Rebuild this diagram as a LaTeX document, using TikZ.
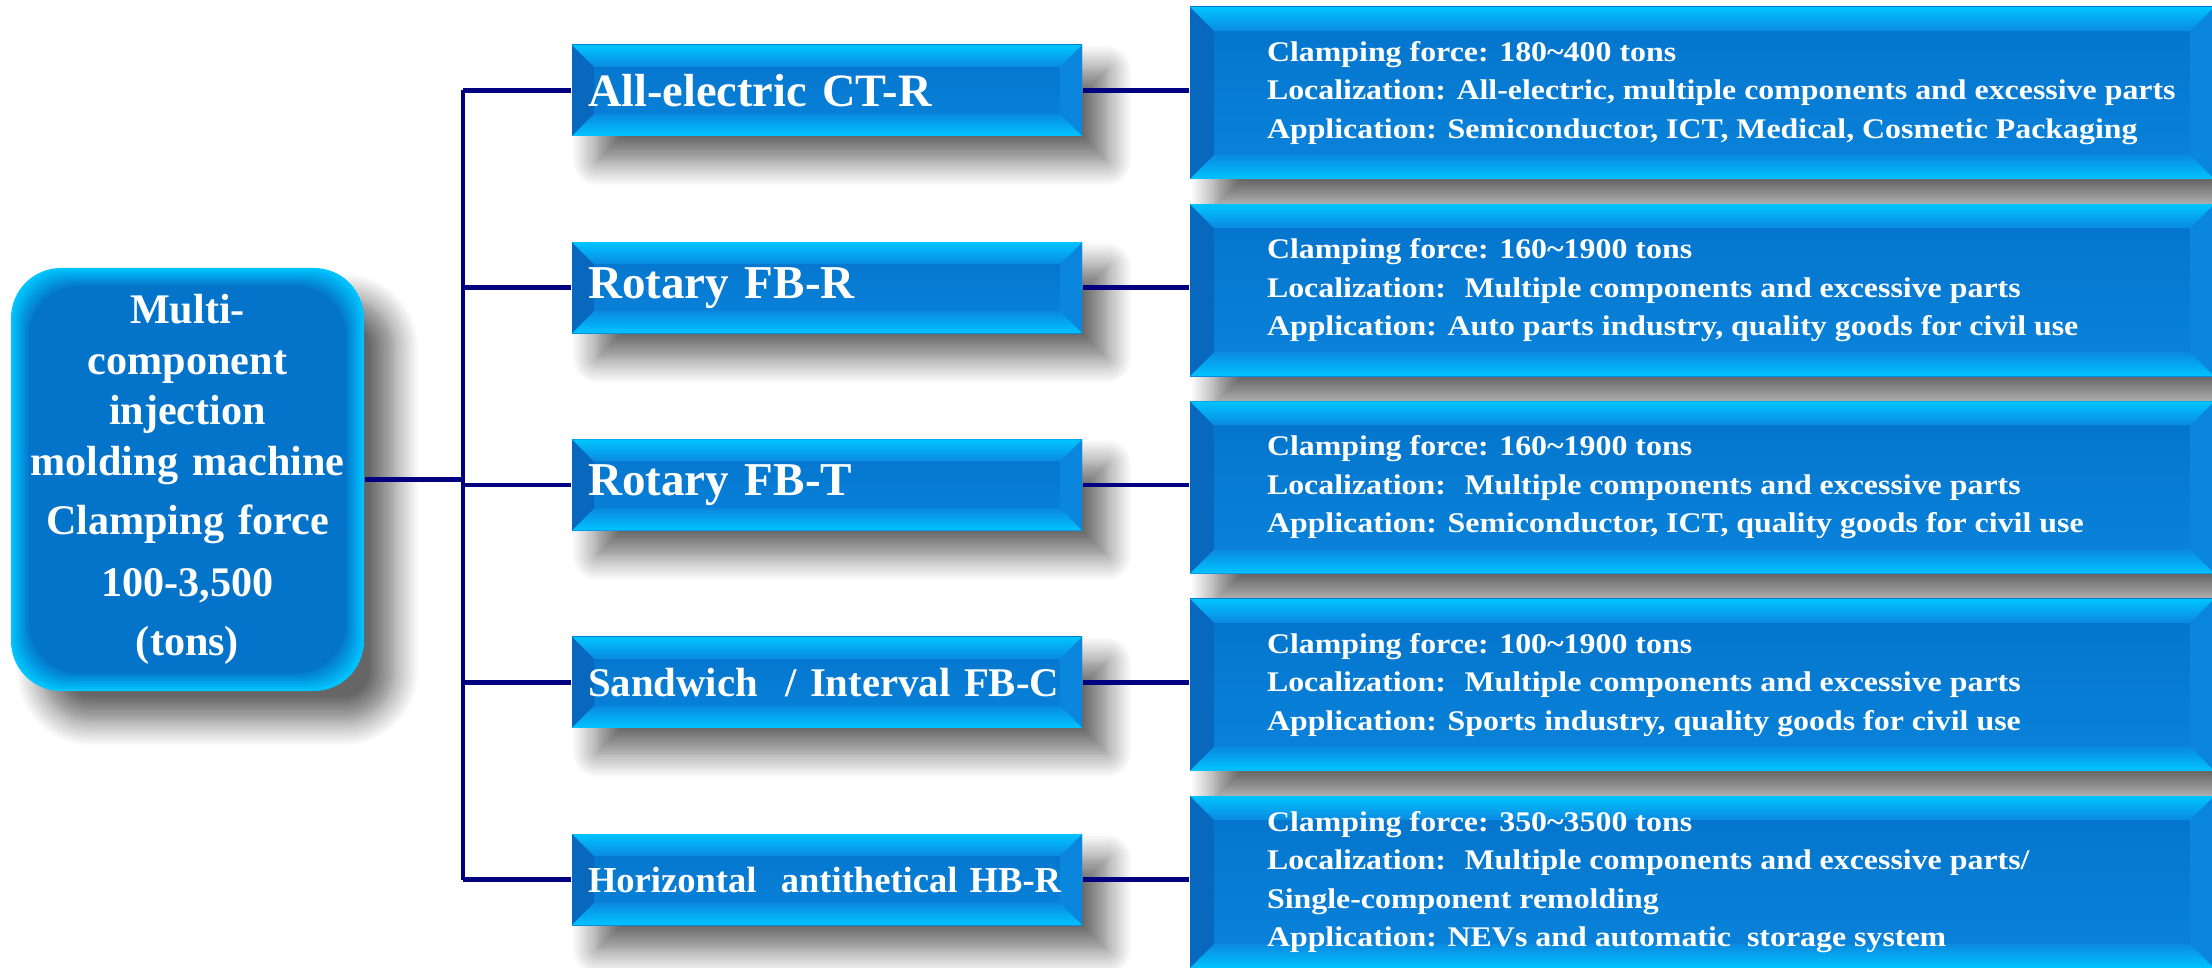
\documentclass[tikz,border=0pt]{standalone}
\usepackage{fontspec}
\setmainfont{Liberation Serif}
\newfontfamily\kwide[FakeStretch=1.12]{Liberation Serif}
\usetikzlibrary{calc,positioning,shadows.blur}
\definecolor{kface}{HTML}{0473CA}
\definecolor{kfacelo}{HTML}{0A84DC}
\definecolor{kedge}{HTML}{00C4FF}
\definecolor{kmid}{HTML}{0A8AE0}
\definecolor{kleft}{HTML}{0868BE}
\definecolor{kright}{HTML}{0A86DC}
\definecolor{kline}{HTML}{000080}
\begin{document}
\begin{tikzpicture}[
  bevel/.style={path picture={
    \coordinate (bsw) at (path picture bounding box.south west);
    \coordinate (bne) at (path picture bounding box.north east);
    \coordinate (bnw) at (bsw|-bne);
    \coordinate (bse) at (bne|-bsw);
    \shade[top color=kface,bottom color=kfacelo](bsw)rectangle(bne);
    \fill[kleft](bsw)--(bnw)--([shift={(#1,-#1)}]bnw)--([shift={(#1,#1)}]bsw)--cycle;
    \fill[kright](bse)--(bne)--([shift={(-#1,-#1)}]bne)--([shift={(-#1,#1)}]bse)--cycle;
    \shade[top color=kedge,bottom color=kmid](bnw)--(bne)--([shift={(-#1,-#1)}]bne)--([shift={(#1,-#1)}]bnw)--cycle;
    \shade[top color=kmid,bottom color=kedge](bsw)--(bse)--([shift={(-#1,#1)}]bse)--([shift={(#1,#1)}]bsw)--cycle;
  }},
  glow/.style={path picture={
    \foreach \k in {0,...,9}{
      \pgfmathtruncatemacro{\kmix}{100-\k*11}
      \fill[rounded corners=0.5cm,kedge!\kmix!kface]([shift={(\k*0.02,\k*0.02)}]path picture bounding box.south west)rectangle([shift={(-\k*0.02,-\k*0.02)}]path picture bounding box.north east);
    }}},
  kshadow/.style={blur shadow={shadow xshift=#1,shadow yshift=-#1,shadow blur radius=0.25cm,shadow opacity=60,shadow blur steps=12}},
  mainbox/.style={glow,kshadow=0.3cm,rounded corners=0.5cm,minimum width=3.53cm,minimum height=4.23cm,text width=3.4cm,align=center,text=white,inner xsep=0pt,font=\bfseries\fontsize{12}{14.4}\selectfont},
  branch/.style={bevel=0.22cm,kshadow=0.25cm,minimum width=5.1cm,minimum height=0.91cm,text width=4.78cm,inner xsep=0.16cm,align=left,text=white},
  detail/.style={bevel=0.24cm,kshadow=0.26cm,minimum width=10.24cm,minimum height=1.72cm},
  dettext/.style={text=white,align=left,inner sep=0pt,font=\kwide\bfseries\fontsize{8.1}{10.95}\selectfont},
  conn/.style={kline,line width=1.4pt}
]
\pgfmathsetmacro{\kystep}{1.9725}
\useasboundingbox (0,0) rectangle (22.12,-9.68);
\coordinate (trunk) at (4.63,0);
\node[mainbox](main) at (1.875,-4.795){Multi-\\component\\injection\\molding machine\\[2.6pt]Clamping force\\[3pt]100-3,500\\[2.6pt](tons)};
\foreach \i/\blb/\bsz in {1/{All-electric CT-R}/13.2,2/{Rotary FB-R}/13.4,3/{Rotary FB-T}/13.4,4/{Sandwich \ / Interval FB-C}/11.6,5/{Horizontal \ antithetical HB-R}/10.4}{
  \node[branch,font=\bfseries\fontsize{\bsz}{16}\selectfont](b\i) at (8.27,-0.905-\i*\kystep+\kystep){\blb};
}
\foreach \i in {1,...,5}{
  \node[detail](d\i) at (17.02,-0.93-\i*\kystep+\kystep){};
}
\foreach \i/\dlb in {1/{Clamping force: 180\textasciitilde400 tons\\Localization: All-electric, multiple components and excessive parts\\Application: Semiconductor, ICT, Medical, Cosmetic Packaging},
  2/{Clamping force: 160\textasciitilde1900 tons\\Localization: \ Multiple components and excessive parts\\Application: Auto parts industry, quality goods for civil use},
  3/{Clamping force: 160\textasciitilde1900 tons\\Localization: \ Multiple components and excessive parts\\Application: Semiconductor, ICT, quality goods for civil use},
  4/{Clamping force: 100\textasciitilde1900 tons\\Localization: \ Multiple components and excessive parts\\Application: Sports industry, quality goods for civil use},
  5/{Clamping force: 350\textasciitilde3500 tons\\Localization: \ Multiple components and excessive parts/\\Single-component remolding\\Application: NEVs and automatic \ storage system}}{
  \node[dettext,right=0.77cm of d\i.west](t\i){\dlb};
}
\draw[conn](main.east)--(main.east-|trunk);
\draw[conn](b1.west-|trunk)--(b5.west-|trunk);
\foreach \i in {1,...,5}{
  \draw[conn](b\i.west-|trunk)--(b\i.west);
  \draw[conn](b\i.east)--(b\i.east-|d\i.west);
}
\end{tikzpicture}
\end{document}
